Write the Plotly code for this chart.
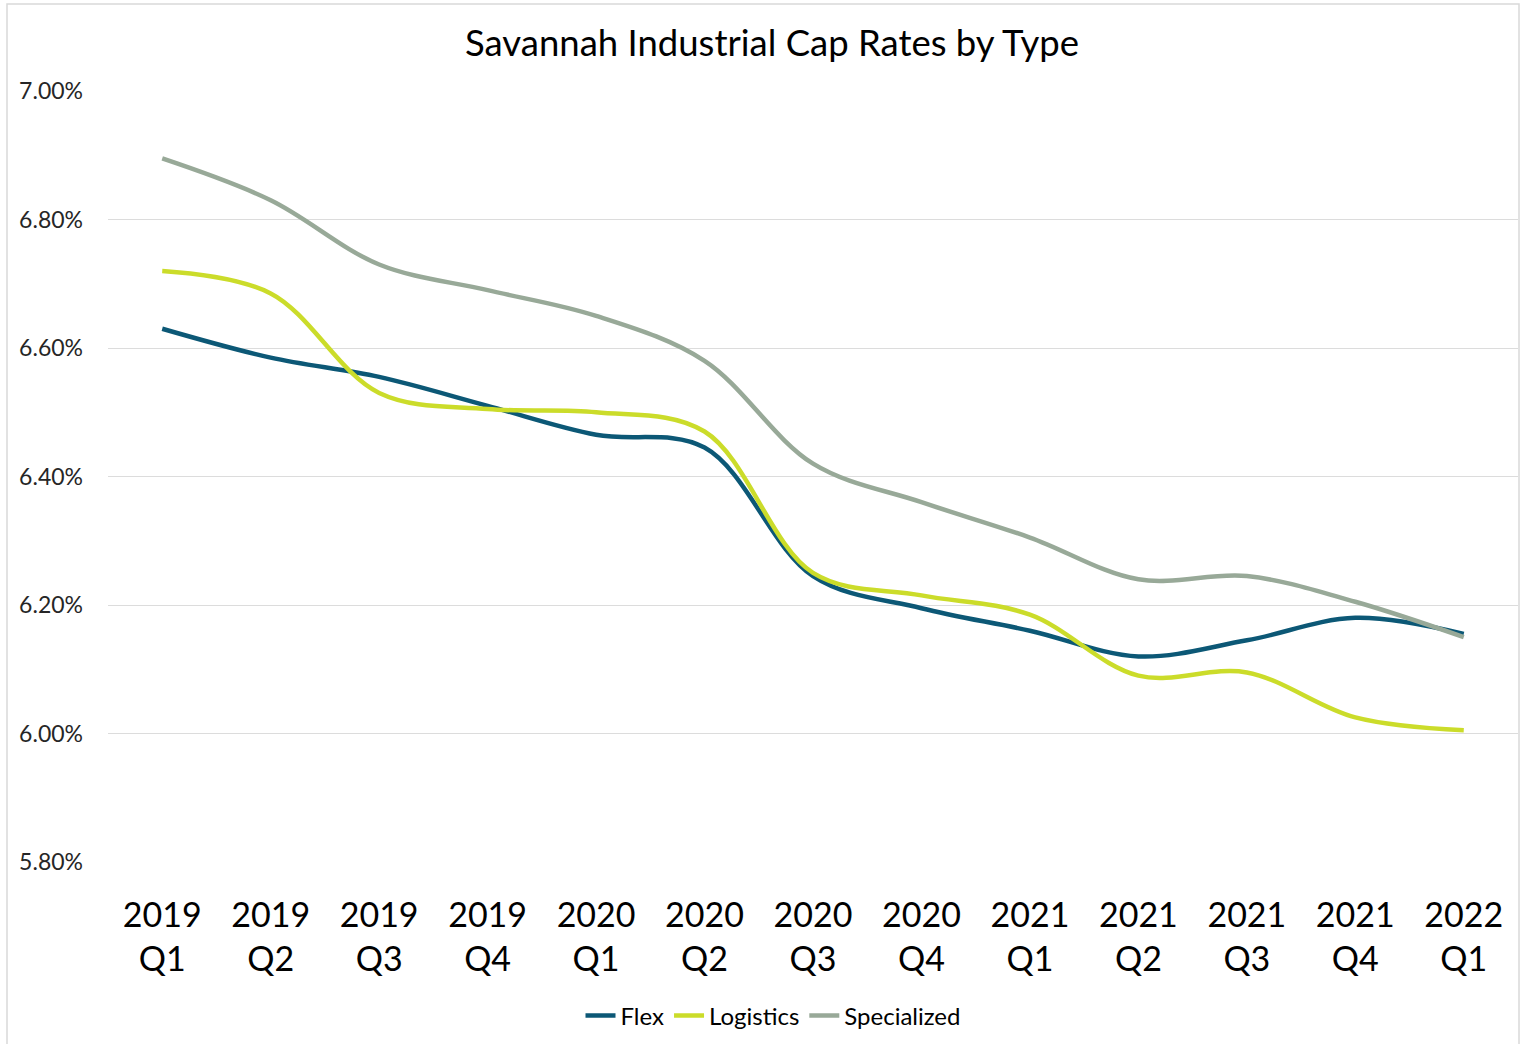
import plotly.graph_objects as go

# Quarterly cap rates (%) by industrial property type
quarters = ["2019<br>Q1", "2019<br>Q2", "2019<br>Q3", "2019<br>Q4",
            "2020<br>Q1", "2020<br>Q2", "2020<br>Q3", "2020<br>Q4",
            "2021<br>Q1", "2021<br>Q2", "2021<br>Q3", "2021<br>Q4",
            "2022<br>Q1"]
flex = [6.63, 6.585, 6.555, 6.51, 6.465, 6.445, 6.245, 6.195, 6.16, 6.12, 6.145, 6.18, 6.155]
logistics = [6.72, 6.685, 6.53, 6.505, 6.50, 6.47, 6.25, 6.215, 6.185, 6.09, 6.095, 6.025, 6.005]
specialized = [6.895, 6.83, 6.73, 6.69, 6.65, 6.58, 6.42, 6.36, 6.305, 6.24, 6.245, 6.205, 6.15]

y_ticks = [5.8, 6.0, 6.2, 6.4, 6.6, 6.8, 7.0]

series = [
    ("Flex", flex, "#0C5876"),
    ("Logistics", logistics, "#CBDC2A"),
    ("Specialized", specialized, "#98A998"),
]

W, H = 1520, 1044
L, R, T, B = 108, 2, 91, 182
pw, ph = W - L - R, H - T - B

def px_x(px):
    return (px - L) / pw

def px_y(py):
    return (H - B - py) / ph

fig = go.Figure()
for name, vals, color in series:
    fig.add_trace(go.Scatter(
        x=quarters, y=vals, name=name, mode="lines",
        line=dict(color=color, width=4.5, shape="spline", smoothing=1.0),
    ))

FONT = "Lato, 'Open Sans', sans-serif"

fig.update_layout(
    width=W, height=H,
    margin=dict(l=L, r=R, t=T, b=B),
    paper_bgcolor="white", plot_bgcolor="white",
    font=dict(family=FONT, color="#000000"),
    title=dict(
        text="Savannah Industrial Cap Rates by Type",
        x=772 / W, xanchor="center", xref="container",
        y=1 - 43 / H, yanchor="middle", yref="container",
        font=dict(size=36.5, color="#000000", family=FONT),
    ),
    xaxis=dict(
        type="category", range=[-0.5, len(quarters) - 0.5],
        showgrid=False, zeroline=False, showline=False, ticks="",
        tickfont=dict(size=34, color="#000000"),
        ticklabelstandoff=30,
    ),
    yaxis=dict(
        range=[5.8, 7.0], tickvals=y_ticks,
        ticktext=[f"{v:.2f}%" for v in y_ticks],
        showgrid=True, gridcolor="#DCDCDC", gridwidth=1.3,
        zeroline=False, showline=False, ticks="",
        tickfont=dict(size=23, color="#262626"),
        ticklabelstandoff=24,
    ),
    legend=dict(
        orientation="h", x=px_x(773), xanchor="center",
        y=px_y(1016), yanchor="middle",
        font=dict(size=24, color="#000000"),
        itemwidth=30, tracegroupgap=0,
    ),
    showlegend=True,
)

# Thin frame around the chart area
fig.add_shape(
    type="rect", xref="paper", yref="paper",
    x0=px_x(7), x1=px_x(1519), y0=px_y(1060), y1=px_y(4),
    line=dict(color="#D9D9D9", width=1.5), fillcolor="rgba(0,0,0,0)",
    layer="below",
)

fig.write_html("out.html")
